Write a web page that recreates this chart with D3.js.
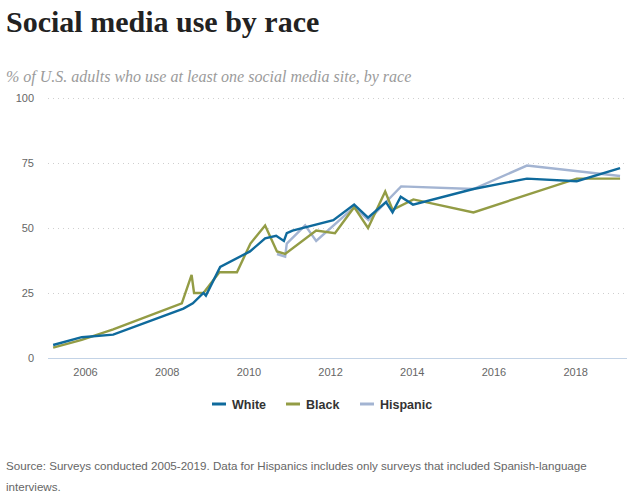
<!DOCTYPE html>
<html><head><meta charset="utf-8">
<script src="https://cdn.jsdelivr.net/npm/d3@7"></script>
<style>
body{margin:0;background:#fff;}
svg{display:block;}
</style></head>
<body>
<svg id="chart" width="640" height="502"></svg>
<script>
const title = "Social media use by race";
const subtitle = "% of U.S. adults who use at least one social media site, by race";
const sourceLines = ["Source: Surveys conducted 2005-2019. Data for Hispanics includes only surveys that included Spanish-language", "interviews."];
const seriesNames = ["White", "Black", "Hispanic"];
const seriesColors = ["#0f6a9c", "#939c45", "#a3b4d2"];
const yTicks = [0, 25, 50, 75, 100];
const xTicks = [2006, 2008, 2010, 2012, 2014, 2016, 2018];

const whiteYears = [2005.22, 2005.92, 2006.69, 2008.41, 2008.64, 2008.90, 2008.96, 2009.31, 2010.04, 2010.41, 2010.68, 2010.87, 2010.94, 2011.08, 2012.08, 2012.59, 2012.93, 2013.37, 2013.53, 2013.73, 2014.03, 2015.51, 2016.82, 2018.04, 2019.10];
const whiteValues = [5, 8, 9, 19, 21, 25, 24, 35, 41, 46, 47, 45, 48, 49, 53, 59, 54, 60, 56, 62, 59, 65, 69, 68, 73];

const blackYears = [2005.22, 2005.92, 2006.69, 2008.37, 2008.61, 2008.67, 2008.90, 2009.29, 2009.72, 2010.05, 2010.41, 2010.70, 2010.90, 2011.66, 2012.12, 2012.59, 2012.93, 2013.35, 2013.53, 2014.04, 2015.51, 2018.04, 2019.10];
const blackValues = [4, 7, 11, 21, 32, 25, 25, 33, 33, 44, 51, 41, 40, 49, 48, 58, 50, 64, 57, 61, 56, 69, 69];

const hispanicYears = [2010.70, 2010.90, 2010.94, 2011.39, 2011.66, 2012.59, 2012.94, 2013.74, 2015.51, 2016.82, 2019.10];
const hispanicValues = [40, 39, 44, 51, 45, 58, 53, 66, 65, 74, 70];

const svg = d3.select("#chart");
const W = 640, H = 502;
const margin = {left: 48, right: 13, top: 98, bottom: 144};

const x = d3.scaleLinear().domain([2005.094, 2019.27]).range([margin.left, W - margin.right]);
const y = d3.scaleLinear().domain([0, 100]).range([358, 98]);

// Title
svg.append("text").attr("x", 6).attr("y", 32)
  .attr("font-family", "'Liberation Serif', serif").attr("font-weight", "bold")
  .attr("font-size", 30).attr("fill", "#222").text(title);
svg.append("text").attr("x", 6).attr("y", 82)
  .attr("font-family", "'Liberation Serif', serif").attr("font-style", "italic")
  .attr("font-size", 16).attr("fill", "#9b9b9b").text(subtitle);

// Gridlines
const grid = svg.append("g");
grid.selectAll("line").data(yTicks.filter(d => d > 0)).join("line")
  .attr("x1", x.range()[0]).attr("x2", x.range()[1])
  .attr("y1", d => y(d) + 0.5).attr("y2", d => y(d) + 0.5)
  .attr("stroke", "#cfcfcf").attr("stroke-width", 1).attr("stroke-dasharray", "1,4");
svg.append("line").attr("x1", x.range()[0]).attr("x2", x.range()[1])
  .attr("y1", y(0) + 0.5).attr("y2", y(0) + 0.5).attr("stroke", "#c3d3e6").attr("stroke-width", 1);

// Y axis
const yAxis = d3.axisLeft(y).tickValues(yTicks).tickSize(0).tickPadding(0);
const yg = svg.append("g").attr("transform", `translate(34,0)`).call(yAxis);
yg.select(".domain").remove();
yg.selectAll("text").attr("font-family", "'Liberation Sans', Arial, sans-serif").attr("font-size", 11).attr("fill", "#666");

// X axis
const xAxis = d3.axisBottom(x).tickValues(xTicks).tickFormat(d3.format("d")).tickSize(0).tickPadding(0);
const xg = svg.append("g").attr("transform", `translate(0,368)`).call(xAxis);
xg.select(".domain").remove();
xg.selectAll("text").attr("font-family", "'Liberation Sans', Arial, sans-serif").attr("font-size", 11).attr("fill", "#666");

// Lines
const series = [
  {name: seriesNames[0], color: seriesColors[0], pts: whiteYears.map((t, i) => [t, whiteValues[i]])},
  {name: seriesNames[1], color: seriesColors[1], pts: blackYears.map((t, i) => [t, blackValues[i]])},
  {name: seriesNames[2], color: seriesColors[2], pts: hispanicYears.map((t, i) => [t, hispanicValues[i]])}
];
const line = d3.line().x(d => x(d[0])).y(d => y(d[1]));
const drawOrder = [2, 1, 0];
svg.append("g").selectAll("path").data(drawOrder.map(i => series[i])).join("path")
  .attr("d", d => line(d.pts)).attr("fill", "none")
  .attr("stroke", d => d.color).attr("stroke-width", 2.4)
  .attr("stroke-linejoin", "miter").attr("stroke-linecap", "butt");

// Legend
const legendX = [212, 286, 360];
const lg = svg.append("g");
series.forEach((s, i) => {
  const g = lg.append("g").attr("transform", `translate(${legendX[i]},404)`);
  g.append("line").attr("x1", 0).attr("x2", 14).attr("y1", 0).attr("y2", 0)
    .attr("stroke", s.color).attr("stroke-width", 3);
  g.append("text").attr("x", 20).attr("y", 4.5)
    .attr("font-family", "'Liberation Sans', sans-serif").attr("font-weight", "bold")
    .attr("font-size", 12.5).attr("fill", "#333").text(s.name);
});

// Source
svg.append("g").selectAll("text").data(sourceLines).join("text")
  .attr("x", 6).attr("y", (d, i) => 470 + i * 21)
  .attr("font-family", "'Liberation Sans', Arial, sans-serif").attr("font-size", 11.6).attr("fill", "#666")
  .text(d => d);
</script>
</body></html>
